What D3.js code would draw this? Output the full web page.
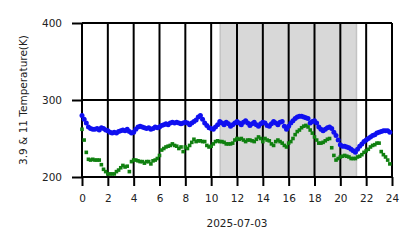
<!DOCTYPE html>
<html><head><meta charset="utf-8">
<script src="https://cdn.jsdelivr.net/npm/d3@7"></script>
<style>body{margin:0;background:#fff}svg{display:block}text{font-family:"DejaVu Sans",sans-serif;fill:#222}</style>
</head><body>
<script>
// 10-minute samples from 00:00 to 23:50
const blueValues = [
280,275,270,265,263,262, 262,263,261,264,263,261, 260,258,257,258,257,259, 260,261,260,262,259,257,
258,262,265,266,265,264, 263,264,262,263,265,264, 265,267,268,269,268,270, 271,270,271,270,269,270,
271,270,268,270,272,274, 278,280,275,270,267,264, 263,262,265,268,272,270, 268,271,269,266,268,270,
272,270,268,271,273,270, 267,269,271,268,266,269, 271,270,267,266,269,272, 270,268,271,272,266,262,
266,270,273,276,278,279, 279,278,277,276,270,272, 273,270,265,262,260,262, 264,265,263,258,254,248,
242,240,240,239,238,236, 234,232,236,240,243,246, 248,250,252,254,255,257, 258,259,260,260,260,258];
const greenValues = [
262,248,232,223,222,223, 222,222,222,216,210,207, 204,204,204,204,207,209, 212,215,213,214,207,220,
222,222,221,220,220,218, 220,220,217,221,222,224, 228,235,237,239,240,241, 243,241,240,237,239,233,
239,237,241,245,249,246, 247,247,246,246,241,239, 240,243,246,247,246,246, 245,243,243,243,244,248,
250,249,250,248,246,248, 248,247,246,249,252,250, 246,250,248,247,243,241, 246,248,246,244,241,239,
244,246,250,255,259,261, 264,266,267,265,261,257, 252,248,244,244,245,247, 249,250,238,228,222,224,
226,227,228,227,226,224, 224,224,226,227,229,232, 234,236,239,241,242,244, 244,233,229,226,222,217];
const xTicks = [0,2,4,6,8,10,12,14,16,18,20,22,24];
const yTicks = [200,300,400];
const shadeSpan = [10.7, 21.25];
const xLabel = "2025-07-03";
const yLabel = "3.9 & 11 Temperature(K)";

const W = 418, H = 248;
const m = {l:82, r:26, t:23, b:71};
const svg = d3.select("body").append("svg").attr("width", W).attr("height", H);
const x = d3.scaleLinear().domain([0,24]).range([m.l, W-m.r]);
const y = d3.scaleLinear().domain([200,400]).range([H-m.b, m.t]);
const hours = blueValues.map((_, i) => i/6);

// shaded span
svg.append("rect").attr("x", x(shadeSpan[0])).attr("y", y(400))
  .attr("width", x(shadeSpan[1]) - x(shadeSpan[0])).attr("height", y(200) - y(400))
  .attr("fill", "#d8d8d8").attr("stroke", "#c4c4c4").attr("stroke-width", 1.5);

// grid
svg.append("g").selectAll("line").data(xTicks).join("line")
  .attr("x1", d => x(d)).attr("x2", d => x(d)).attr("y1", y(400)).attr("y2", y(200))
  .attr("stroke", "#000").attr("stroke-width", 2);
svg.append("g").selectAll("line").data(yTicks).join("line")
  .attr("x1", x(0)).attr("x2", x(24)).attr("y1", d => y(d)).attr("y2", d => y(d))
  .attr("stroke", "#000").attr("stroke-width", 2);

// data
svg.append("g").selectAll("circle").data(blueValues).join("circle")
  .attr("cx", (d,i) => x(hours[i])).attr("cy", d => y(d)).attr("r", 2.5).attr("fill", "#1010f0");
svg.append("g").selectAll("rect").data(greenValues).join("rect")
  .attr("x", (d,i) => x(hours[i]) - 1.8).attr("y", d => y(d) - 1.8).attr("width", 3.6).attr("height", 3.6).attr("fill", "#108010");

// axes
const xAxis = svg.append("g").attr("transform", `translate(0,${y(200)})`)
  .call(d3.axisBottom(x).tickValues(xTicks).tickSize(9).tickPadding(9).tickFormat(d3.format("d")));
const yAxis = svg.append("g").attr("transform", `translate(${x(0)},0)`)
  .call(d3.axisLeft(y).tickValues(yTicks).tickSize(10).tickPadding(10).tickFormat(d3.format("d")));
[xAxis, yAxis].forEach(a => {
  a.select(".domain").remove();
  a.selectAll(".tick line").attr("stroke", "#000").attr("stroke-width", 2);
  a.selectAll("text").attr("font-size", 10.5).attr("fill", "#222").style("font-family", "DejaVu Sans");
});

svg.append("text").attr("x", (x(0)+x(24))/2).attr("y", 227).attr("text-anchor", "middle")
  .attr("font-size", 10.5).text(xLabel);
svg.append("text").attr("transform", `translate(27,${(y(200)+y(400))/2}) rotate(-90)`)
  .attr("text-anchor", "middle").attr("font-size", 10.5).text(yLabel);
</script>
</body></html>
